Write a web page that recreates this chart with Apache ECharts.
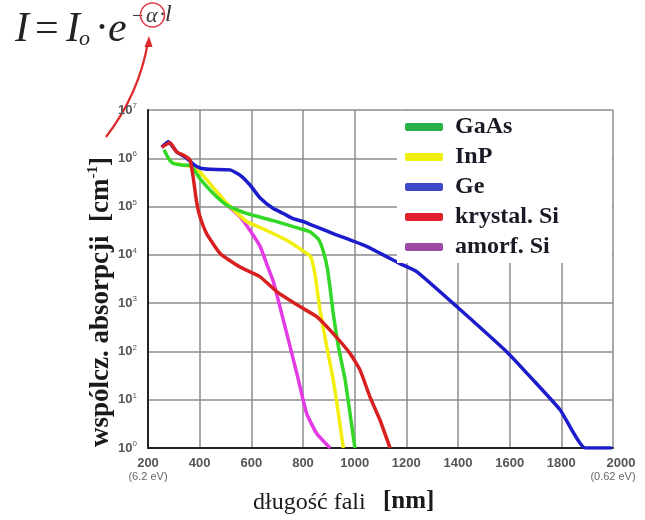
<!DOCTYPE html>
<html><head><meta charset="utf-8">
<script src="https://cdn.jsdelivr.net/npm/echarts@6/dist/echarts.min.js"></script>
<style>html,body{margin:0;padding:0;background:#fff}#c{width:645px;height:520px}</style>
</head><body><div id="c"></div>
<script>
// ---- data (wavelength in nm, absorption coefficient in cm^-1) ----
const seriesNames = ['GaAs', 'InP', 'Ge', 'krystal. Si', 'amorf. Si'];

const gaasNm    = [262, 279, 298, 337, 363, 380, 401, 453, 505, 582, 685, 788, 827, 860, 880, 895, 905, 917, 937, 963, 982, 1001];
const gaasAlpha = [1.5e6, 1.0e6, 7.8e5, 7.2e5, 7.2e5, 5.6e5, 3.8e5, 1.86e5, 1.07e5, 7.2e4, 5.1e4, 3.5e4, 3.0e4, 2.1e4, 1.12e4, 5.0e3, 2.0e3, 620, 126, 26, 5.2, 1];

const inpNm    = [300, 340, 375, 401, 440, 505, 582, 659, 737, 801, 830, 846, 866, 892, 917, 937, 956];
const inpAlpha = [7.9e5, 7.2e5, 6.6e5, 5.2e5, 3.0e5, 1.17e5, 4.9e4, 3.2e4, 2.0e4, 1.2e4, 9.1e3, 4.0e3, 710, 126, 26, 5.2, 1];

const geNm    = [253, 279, 311, 343, 375, 401, 440, 517, 556, 595, 634, 685, 724, 762, 801, 827, 917, 1046, 1175, 1240, 1395, 1595, 1679, 1795, 1892, 1995];
const geAlpha = [1.7e6, 2.2e6, 1.35e6, 1.07e6, 7.6e5, 6.3e5, 5.9e5, 5.75e5, 4.5e5, 2.8e5, 1.5e5, 9.1e4, 7.2e4, 5.6e4, 4.9e4, 4.3e4, 2.75e4, 1.5e4, 6.6e3, 4.5e3, 850, 91, 30, 6.2, 1, 1];

const siNm    = [253, 285, 311, 343, 363, 375, 388, 401, 427, 479, 556, 634, 698, 788, 853, 917, 982, 1021, 1059, 1098, 1137];
const siAlpha = [1.7e6, 2.1e6, 1.35e6, 1.12e6, 9.1e5, 4.0e5, 1.26e5, 6.2e4, 2.75e4, 1.07e4, 5.6e3, 3.5e3, 1.74e3, 850, 525, 234, 91, 41, 11.5, 3.8, 1];

const aSiNm    = [470, 505, 556, 595, 634, 659, 685, 717, 750, 782, 814, 853, 905];
const aSiAlpha = [1.95e5, 1.1e5, 6.2e4, 3.2e4, 1.5e4, 6.6e3, 2.8e3, 620, 126, 26, 5.2, 2.0, 1];

const energyTicks  = [200, 2000];
const energyLabels = ['(6.2 eV)', '(0.62 eV)'];

// ---- styles ----
const lineColors   = { 'GaAs': '#33d826', 'InP': '#f2ef0c', 'Ge': '#1c1ccc', 'krystal. Si': '#d92020', 'amorf. Si': '#e43ae4' };
const legendColors = { 'GaAs': '#27b04a', 'InP': '#eeee10', 'Ge': '#3b48c8', 'krystal. Si': '#e0202c', 'amorf. Si': '#9c4aa6' };

function pairs(xs, ys) { return xs.map((x, i) => [x, ys[i]]); }
function mkSeries(name, xs, ys) {
  return {
    name: name, type: 'line', data: pairs(xs, ys), showSymbol: false,
    smooth: 0.15,
    lineStyle: { color: lineColors[name], width: 3.5 }, itemStyle: { color: lineColors[name] }
  };
}

const chart = echarts.init(document.getElementById('c'), null, { renderer: 'canvas' });
const tickFont = 'Liberation Sans';
const serif = '"Liberation Serif", "Times New Roman", serif';

chart.setOption({
  animation: false,
  backgroundColor: '#fff',
  grid: { left: 148, right: 32, top: 110, bottom: 72, containLabel: false },
  legend: {
    orient: 'vertical', left: 397, top: 111,
    backgroundColor: '#fff',
    padding: [4, 53, 4, 8],
    itemGap: 6, itemWidth: 38, itemHeight: 8, icon: 'roundRect',
    data: seriesNames.map(n => ({ name: n, itemStyle: { color: legendColors[n] } })),
    textStyle: { fontFamily: serif, fontWeight: 'bold', fontSize: 24, lineHeight: 24, color: '#1a1a26', padding: [0, 0, 0, 7] }
  },
  xAxis: {
    type: 'value', min: 200, max: 2000, interval: 200,
    axisLine: { show: true, onZero: false, lineStyle: { color: '#222', width: 2 } },
    axisTick: { show: false },
    splitLine: { show: true, lineStyle: { color: '#8c8c8c', width: 1.5 } },
    axisLabel: {
      margin: 8,
      formatter: function (v) {
        const k = energyTicks.indexOf(v);
        if (k === 0) return '{v|' + v + '}\n{e|' + energyLabels[k] + '}';
        if (k === 1) return '{v2|' + v + '}\n{e|' + energyLabels[k] + '}';
        return '{v|' + v + '}';
      },
      rich: {
        v: { fontFamily: tickFont, fontWeight: 'bold', fontSize: 13, color: '#555', lineHeight: 15 },
        v2: { fontFamily: tickFont, fontWeight: 'bold', fontSize: 13, color: '#555', lineHeight: 15, padding: [0, 0, 0, 16] },
        e: { fontFamily: tickFont, fontSize: 11, color: '#666', lineHeight: 12 }
      }
    }
  },
  yAxis: {
    type: 'log', logBase: 10, min: 1, max: 1e7, splitNumber: 7,
    axisLine: { show: true, onZero: false, lineStyle: { color: '#222', width: 2 } },
    axisTick: { show: false },
    splitLine: { show: true, lineStyle: { color: '#8c8c8c', width: 1.5 } },
    axisLabel: {
      margin: 11,
      formatter: function (v) {
        const e = Math.round(Math.log10(v));
        return '{b|10}{s|' + e + '}';
      },
      rich: {
        b: { fontFamily: tickFont, fontWeight: 'bold', fontSize: 13, color: '#555', lineHeight: 16 },
        s: { fontFamily: tickFont, fontSize: 8, color: '#555', verticalAlign: 'top', lineHeight: 10 }
      }
    }
  },
  series: [
    mkSeries('amorf. Si', aSiNm, aSiAlpha),
    mkSeries('InP', inpNm, inpAlpha),
    mkSeries('GaAs', gaasNm, gaasAlpha),
    mkSeries('Ge', geNm, geAlpha),
    mkSeries('krystal. Si', siNm, siAlpha)
  ],
  graphic: [
    // formula I = I_o · e^(-α·l)
    { type: 'text', x: 15, y: 30, style: { text: 'I', font: 'italic 42px ' + serif, fill: '#222', textVerticalAlign: 'middle' } },
    { type: 'text', x: 35, y: 30, style: { text: '=', font: '42px ' + serif, fill: '#222', textVerticalAlign: 'middle' } },
    { type: 'text', x: 66, y: 30, style: { text: 'I', font: 'italic 42px ' + serif, fill: '#222', textVerticalAlign: 'middle' } },
    { type: 'text', x: 79, y: 39, style: { text: 'o', font: 'italic 22px ' + serif, fill: '#222', textVerticalAlign: 'middle' } },
    { type: 'text', x: 95, y: 30, style: { text: '·', font: '42px ' + serif, fill: '#222', textVerticalAlign: 'middle' } },
    { type: 'text', x: 108, y: 30, style: { text: 'e', font: 'italic 42px ' + serif, fill: '#222', textVerticalAlign: 'middle' } },
    { type: 'text', x: 132, y: 17, style: { text: '−', font: '20px ' + serif, fill: '#333', textVerticalAlign: 'middle' } },
    { type: 'text', x: 146, y: 16, style: { text: 'α', font: 'italic 22px ' + serif, fill: '#333', textVerticalAlign: 'middle' } },
    { type: 'text', x: 159, y: 15, style: { text: '·', font: '22px ' + serif, fill: '#333', textVerticalAlign: 'middle' } },
    { type: 'text', x: 165, y: 15, style: { text: 'l', font: 'italic 24px ' + serif, fill: '#333', textVerticalAlign: 'middle' } },
    { type: 'circle', shape: { cx: 152.5, cy: 15, r: 12 }, style: { fill: 'none', stroke: '#e0404c', lineWidth: 1.6 } },
    { type: 'bezierCurve', shape: { x1: 148, y1: 42, cpx1: 139, cpy1: 94, x2: 106, y2: 137 }, style: { fill: 'none', stroke: '#e02828', lineWidth: 2.2 } },
    { type: 'polygon', shape: { points: [[149, 36], [144.5, 47], [152.5, 47]] }, style: { fill: '#e02828' } },
    // axis titles
    { type: 'text', x: 101, y: 302, rotation: Math.PI / 2,
      style: { text: '{a|wspólcz. absorpcji  [cm}{s|-1}{a|]}', textAlign: 'center', textVerticalAlign: 'middle',
        rich: { a: { fontFamily: serif, fontWeight: 'bold', fontSize: 27, fill: '#1a1a1a', lineHeight: 30 },
                s: { fontFamily: serif, fontWeight: 'bold', fontSize: 15, fill: '#1a1a1a', lineHeight: 15, verticalAlign: 'top' } } } },
    { type: 'text', x: 253, y: 503, style: { text: 'długość fali', font: '24px ' + serif, fill: '#1a1a1a', textVerticalAlign: 'middle' } },
    { type: 'text', x: 383, y: 502, style: { text: '[nm]', font: 'bold 25px ' + serif, fill: '#1a1a1a', textVerticalAlign: 'middle' } }
  ]
});
</script>
</body></html>
